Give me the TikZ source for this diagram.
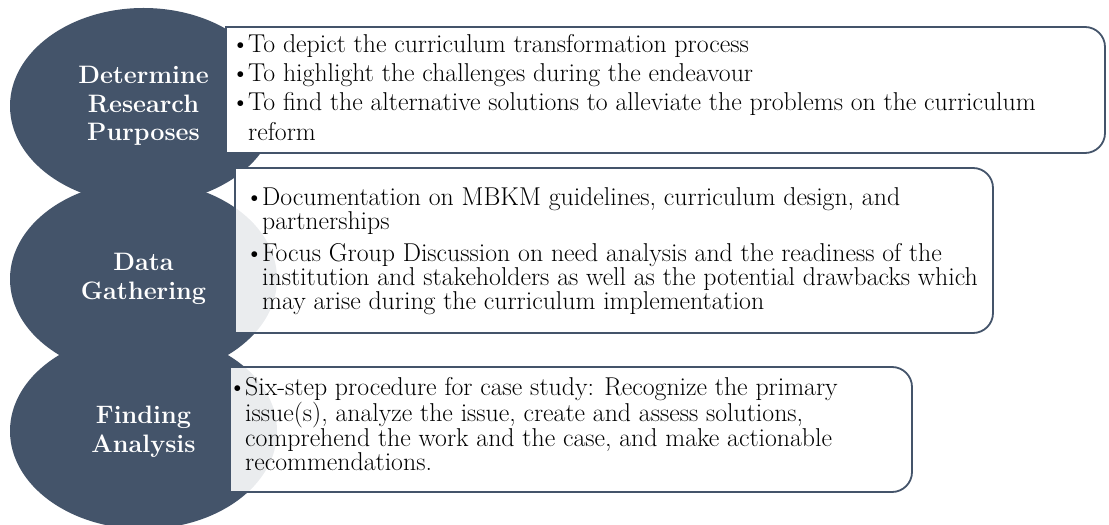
\documentclass[tikz,border=0pt]{standalone}
\definecolor{slate}{HTML}{44546A}
\tikzset{
  circ/.style={fill=slate},
  boxline/.style={draw=slate, line width=1.8pt},
  head/.style={text=white, align=center, inner sep=0pt, font=\fontsize{25.2}{28.5}\selectfont\bfseries},
  body/.style={anchor=base west, inner sep=0pt, font=\fontsize{25.8}{24}\selectfont},
}
\newcommand{\bl}{\leavevmode\llap{\textbullet\kern-1.5pt}}
\begin{document}
\begin{tikzpicture}[x=1pt,y=1pt]
\useasboundingbox (0,0) rectangle (1109,525);
\fill[white] (0,0) rectangle (1109,525);
\begin{scope}
  \clip (0,0) rectangle (1109,525);
  \fill[circ] (143.5,419) ellipse [x radius=133.5, y radius=98];
  \fill[circ] (143.5,246) ellipse [x radius=133.5, y radius=98];
  \fill[circ] (143.5,94) ellipse [x radius=133.5, y radius=98];
\end{scope}
% box 1 (opaque)
\fill[white] (226,498) -- (1085,498) arc[start angle=90,end angle=0,radius=20] -- (1105,392) arc[start angle=0,end angle=-90,radius=20] -- (226,372) -- cycle;
\draw[boxline] (226,498) -- (1085,498) arc[start angle=90,end angle=0,radius=20] -- (1105,392) arc[start angle=0,end angle=-90,radius=20] -- (226,372) -- cycle;
% box 2
\fill[white] (235,357) -- (973,357) arc[start angle=90,end angle=0,radius=20] -- (993,212) arc[start angle=0,end angle=-90,radius=20] -- (235,192) -- cycle;
\begin{scope}
  \clip (235,357) -- (973,357) arc[start angle=90,end angle=0,radius=20] -- (993,212) arc[start angle=0,end angle=-90,radius=20] -- (235,192) -- cycle;
  \fill[slate, opacity=0.11] (143.5,246) ellipse [x radius=133.5, y radius=98];
\end{scope}
\draw[boxline] (235,357) -- (973,357) arc[start angle=90,end angle=0,radius=20] -- (993,212) arc[start angle=0,end angle=-90,radius=20] -- (235,192) -- cycle;
% box 3
\fill[white] (230,158) -- (892,158) arc[start angle=90,end angle=0,radius=20] -- (912,53) arc[start angle=0,end angle=-90,radius=20] -- (230,33) -- cycle;
\begin{scope}
  \clip (230,158) -- (892,158) arc[start angle=90,end angle=0,radius=20] -- (912,53) arc[start angle=0,end angle=-90,radius=20] -- (230,33) -- cycle;
  \fill[slate, opacity=0.11] (143.5,94) ellipse [x radius=133.5, y radius=98];
\end{scope}
\draw[boxline] (230,158) -- (892,158) arc[start angle=90,end angle=0,radius=20] -- (912,53) arc[start angle=0,end angle=-90,radius=20] -- (230,33) -- cycle;
% headings
\node[head] (h1) at (143.5,419) {Determine\\Research\\Purposes};
\node[head] (h2) at (143.5,246) {Data\\Gathering};
\node[head] (h3) at (143.5,93) {Finding\\Analysis};
% body text
\node[body] (t11) at (248,472) {\parbox[t]{1000pt}{\raggedright\bl To depict the curriculum transformation process}};
\node[body] (t12) at (248,443) {\parbox[t]{1000pt}{\raggedright\bl To highlight the challenges during the endeavour}};
\node[body] (t13) at (248,414) {\parbox[t]{1000pt}{\raggedright\baselineskip=30pt\bl To find the alternative solutions to alleviate the problems on the curriculum\\reform}};
\node[body] (t21) at (262,319) {\parbox[t]{1000pt}{\raggedright\bl Documentation on MBKM guidelines, curriculum design, and\\partnerships}};
\node[body] (t22) at (262,263) {\parbox[t]{1000pt}{\raggedright\bl Focus Group Discussion on need analysis and the readiness of the\\institution and stakeholders as well as the potential drawbacks which\\may arise during the curriculum implementation}};
\node[body] (t31) at (245,129) {\parbox[t]{1000pt}{\raggedright\bl Six-step procedure for case study: Recognize the primary\\issue(s), analyze the issue, create and assess solutions,\\comprehend the work and the case, and make actionable\\recommendations.}};
\end{tikzpicture}
\end{document}
